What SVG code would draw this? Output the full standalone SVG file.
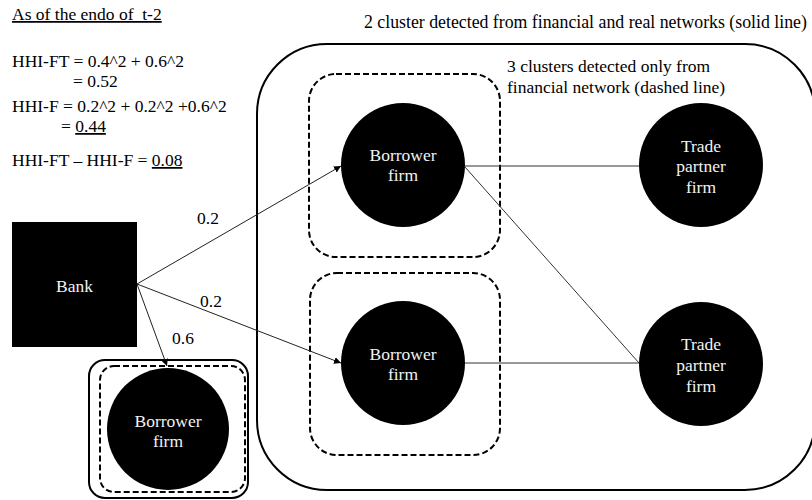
<svg xmlns="http://www.w3.org/2000/svg" width="812" height="500" viewBox="0 0 812 500">
<style>
.t { font-family: "Liberation Serif", "Times New Roman", Times, serif; font-size: 17.5px; fill: #000; }
.w { font-family: "Liberation Serif", "Times New Roman", Times, serif; font-size: 17.5px; fill: #f2f2f2; text-anchor: middle; }
.node { fill: #000; }
.solid { fill: none; stroke: #000; stroke-width: 2; }
.dash { fill: none; stroke: #000; stroke-width: 2; stroke-dasharray: 6 3; }
.edge { fill: none; stroke: #333; stroke-width: 1; }
.arr { fill: none; stroke: #222; stroke-width: 1; marker-end: url(#ah); }
.u { text-decoration: underline; }
</style>
<defs>
<marker id="ah" viewBox="0 0 10 10" refX="10" refY="5" markerWidth="7" markerHeight="7" markerUnits="userSpaceOnUse" orient="auto">
<path d="M0,0 L10,5 L0,10 z" fill="#000"/>
</marker>
</defs>

<g id="notes">
<text class="t u" x="12" y="20" xml:space="preserve">As of the endo of  t-2</text>
<text class="t" x="12" y="67">HHI-FT = 0.4^2 + 0.6^2</text>
<text class="t" x="73" y="87">= 0.52</text>
<text class="t" x="12" y="112">HHI-F = 0.2^2 + 0.2^2 +0.6^2</text>
<text class="t" x="61" y="132">= <tspan class="u">0.44</tspan></text>
<text class="t" x="12" y="166">HHI-FT – HHI-F = <tspan class="u">0.08</tspan></text>
</g>

<g id="cluster-solid-big">
<rect class="solid" x="257" y="44" width="558" height="446" rx="70" ry="70"/>
<text class="t" x="364" y="28" style="font-size:17.8px">2 cluster detected from financial and real networks (solid line)</text>
</g>
<g id="cluster-dashed-top">
<rect class="dash" x="309" y="74" width="191" height="183" rx="27" ry="27"/>
<text class="t" x="507" y="72">3 clusters detected only from</text>
<text class="t" x="507" y="93">financial network (dashed line)</text>
</g>
<g id="cluster-dashed-bottom">
<rect class="dash" x="310" y="273" width="190" height="182" rx="27" ry="27"/>
</g>
<g id="cluster-small">
<rect class="solid" x="89" y="360" width="159" height="138" rx="16" ry="16"/>
<rect class="dash" x="100" y="366" width="145" height="126" rx="14" ry="14"/>
</g>

<g id="connectors">
<line class="arr" x1="137" y1="284" x2="341" y2="166"/>
<line class="arr" x1="137" y1="284" x2="341" y2="363"/>
<line class="arr" x1="137" y1="284" x2="167" y2="366"/>
<line class="edge" x1="465" y1="166" x2="639" y2="166"/>
<line class="edge" x1="465" y1="167" x2="639" y2="363"/>
<line class="edge" x1="465" y1="363" x2="639" y2="363"/>
<text class="t" x="197" y="224">0.2</text>
<text class="t" x="200" y="307">0.2</text>
<text class="t" x="172" y="344">0.6</text>
</g>

<g id="bank">
<rect class="node" x="12" y="222" width="125" height="125"/>
<text class="w" x="74.5" y="292">Bank</text>
</g>
<g id="borrower-top">
<circle class="node" cx="403" cy="165" r="62"/>
<text class="w" x="403" y="161">Borrower</text>
<text class="w" x="403" y="181">firm</text>
</g>
<g id="borrower-mid">
<circle class="node" cx="403" cy="363" r="62"/>
<text class="w" x="403" y="360">Borrower</text>
<text class="w" x="403" y="380">firm</text>
</g>
<g id="borrower-small">
<circle class="node" cx="168" cy="429" r="61"/>
<text class="w" x="168" y="427">Borrower</text>
<text class="w" x="168" y="447">firm</text>
</g>
<g id="trade-top">
<circle class="node" cx="701" cy="165" r="62"/>
<text class="w" x="701" y="152">Trade</text>
<text class="w" x="701" y="172">partner</text>
<text class="w" x="701" y="193">firm</text>
</g>
<g id="trade-bottom">
<circle class="node" cx="701" cy="364" r="62"/>
<text class="w" x="701" y="350">Trade</text>
<text class="w" x="701" y="371">partner</text>
<text class="w" x="701" y="392">firm</text>
</g>
</svg>
